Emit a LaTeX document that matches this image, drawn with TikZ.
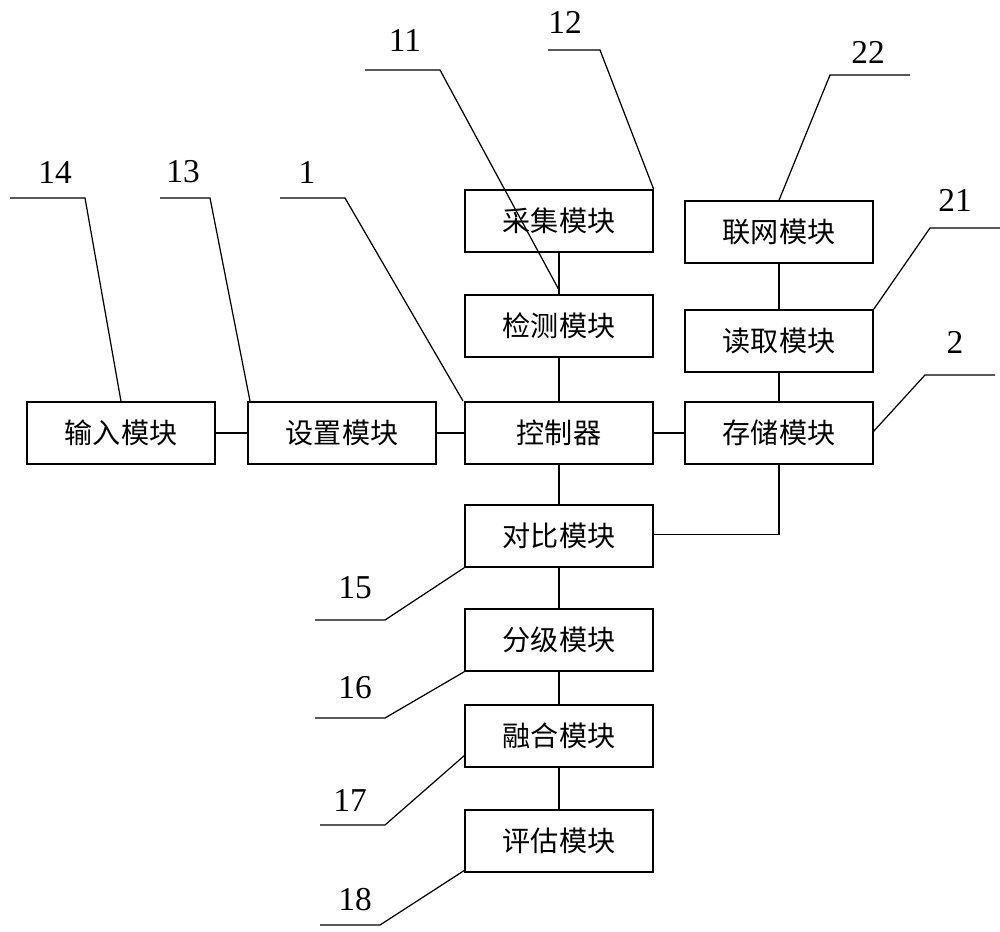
\documentclass[tikz,border=0pt]{standalone}
\usepackage{fontspec}
\setmainfont{Liberation Serif}
\newfontfamily\cjk{Noto Sans CJK SC}
\usetikzlibrary{positioning}
\begin{document}
\begin{tikzpicture}[x=0.02cm,y=-0.02cm,
        ModCfg/.style={draw,thick,minimum width=3.76cm,minimum height=1.24cm,font=\cjk\fontsize{16}{18}\selectfont},
        NumCfg/.style={font=\fontsize{19}{21}\selectfont},
        line width=0.7pt
    ]
    \useasboundingbox (0,0) rectangle (1000,932);

    %central column
    \node[ModCfg] (CJ) at (559,221) {采集模块};
    \node[ModCfg] (JC) at (559,326) {检测模块};
    \node[ModCfg] (KZ) at (559,433) {控制器};
    \node[ModCfg] (DB) at (559,536) {对比模块};
    \node[ModCfg] (FJ) at (559,640) {分级模块};
    \node[ModCfg] (RH) at (559,736) {融合模块};
    \node[ModCfg] (PG) at (559,841) {评估模块};
    %right column
    \node[ModCfg] (LW) at (779,232) {联网模块};
    \node[ModCfg] (DQ) at (779,341) {读取模块};
    \node[ModCfg] (CC) at (779,433) {存储模块};
    %left row
    \node[ModCfg] (SZ) at (342,433) {设置模块};
    \node[ModCfg] (SR) at (121,433) {输入模块};

    %connections
    \draw (CJ)--(JC)--(KZ)--(DB)--(FJ)--(RH)--(PG);
    \draw (LW)--(DQ)--(CC);
    \draw (SR)--(SZ)--(KZ)--(CC);
    \draw (CC.south)--++(0,70)coordinate (T)--(DB.east|-T);

    %labels
    \draw (10,198)--(85,198)--(SR.north)++(0,0); \node[NumCfg] at (55,172){14};
    \draw (160,198)--(210,198)--(250,401); \node[NumCfg] at (183,172){13};
    \draw (280,198)--(345,198)--(463,401); \node[NumCfg] at (307,172){1};
    \draw (365,70)--(440,70)--(559,290); \node[NumCfg] at (405,40){11};
    \draw (548,50)--(600,50)--(CJ.north east); \node[NumCfg] at (565,22){12};
    \draw (910,75)--(830,75)--(LW.north); \node[NumCfg] at (868,52){22};
    \draw (1000,228)--(930,228)--(DQ.north east); \node[NumCfg] at (955,200){21};
    \draw (995,375)--(925,375)--(873,432); \node[NumCfg] at (955,342){2};
    \draw (315,620)--(385,620)--(DB.south west); \node[NumCfg] at (355,588){15};
    \draw (315,718)--(385,718)--(FJ.south west); \node[NumCfg] at (355,688){16};
    \draw (320,825)--(385,825)--(465,755); \node[NumCfg] at (350,800){17};
    \draw (320,925)--(380,925)--(465,870); \node[NumCfg] at (355,900){18};
\end{tikzpicture}
\end{document}
